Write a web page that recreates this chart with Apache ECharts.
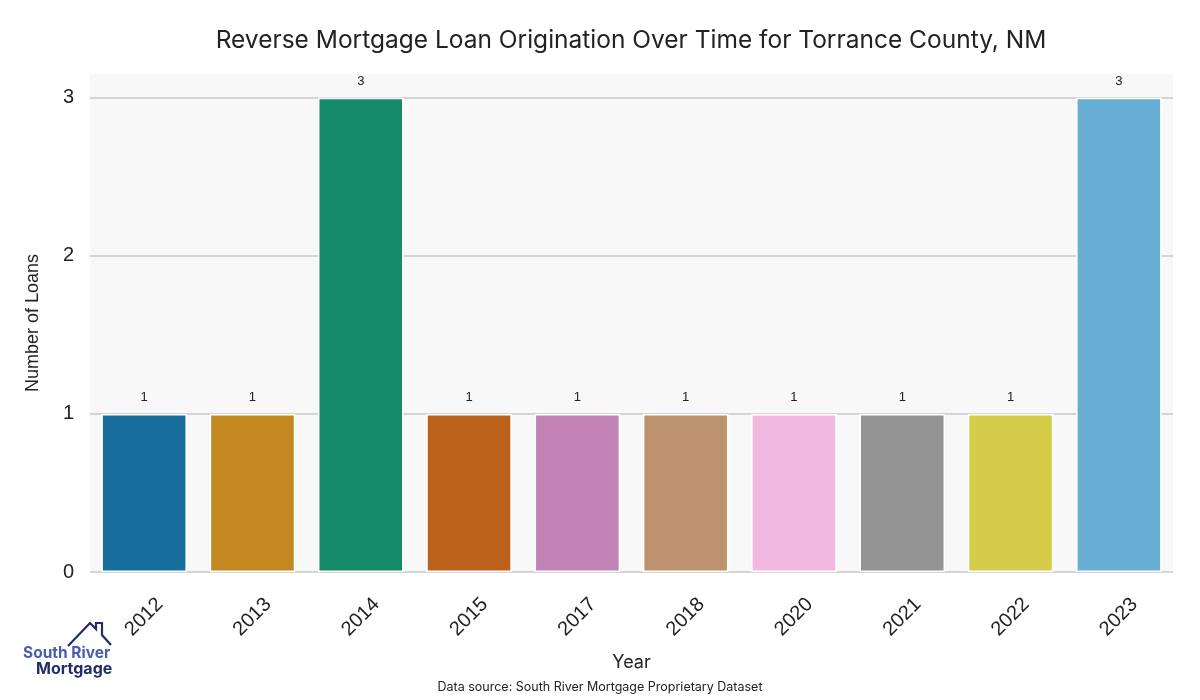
<!DOCTYPE html>
<html><head><meta charset="utf-8">
<script src="https://cdn.jsdelivr.net/npm/echarts@6/dist/echarts.min.js"></script>
<style>html,body{margin:0;padding:0;background:#fff}#c{width:1200px;height:700px}</style>
</head><body><div id="c"></div>
<script>
const years = ['2012','2013','2014','2015','2017','2018','2020','2021','2022','2023'];
const loans = [1,1,3,1,1,1,1,1,1,3];
const barColors = ['#176d9c','#c3881f','#158b6a','#ba611b','#c182b5','#bd926e','#f1b9e0','#949494','#d5cd4a','#68afd6'];
const yTicks = [0,1,2,3];
const titleText = 'Reverse Mortgage Loan Origination Over Time for Torrance County, NM';
const sourceText = 'Data source: South River Mortgage Proprietary Dataset';

const chart = echarts.init(document.getElementById('c'));
chart.setOption({
  backgroundColor:'#ffffff',
  animation:false,
  title:{text:titleText,left:626,top:23,textAlign:'center',
    textStyle:{fontFamily:'Inter',fontSize:24.5,fontWeight:'normal',color:'#222'}},
  grid:{left:90,right:27,top:74,bottom:128,show:true,backgroundColor:'#f8f8f8',borderWidth:0},
  xAxis:{type:'category',data:years,
    axisLine:{show:false},axisTick:{show:false},
    axisLabel:{rotate:45,align:'center',verticalAlign:'middle',margin:45,fontSize:20,color:'#222',fontFamily:'"Liberation Sans", Arial, sans-serif'},
    name:'Year',nameLocation:'middle',nameGap:82,
    nameTextStyle:{fontFamily:'Inter',fontSize:18,color:'#222'}},
  yAxis:{type:'value',min:0,max:3.15,interval:1,
    axisLine:{show:false},axisTick:{show:false},
    axisLabel:{margin:16,fontSize:20,color:'#222',fontFamily:'"Liberation Sans", Arial, sans-serif',
      formatter:v=>yTicks.includes(v)?String(v):''},
    splitLine:{lineStyle:{color:['#c8c8c8','#c8c8c8','#c8c8c8','#c8c8c8','rgba(0,0,0,0)'],width:1.5}},
    name:'Number of Loans',nameLocation:'middle',nameGap:48,
    nameTextStyle:{fontFamily:'"Liberation Sans", Arial, sans-serif',fontSize:18,color:'#222'}},
  series:[{type:'bar',barWidth:'79%',
    data:loans.map((v,i)=>({value:v,itemStyle:{color:barColors[i]}})),
    itemStyle:{borderColor:'#ffffff',borderWidth:1.5},
    label:{show:true,position:'top',distance:10,fontSize:13,color:'#222',fontFamily:'"Liberation Sans", Arial, sans-serif'}}],
  graphic:[
    {type:'text',left:'center',top:681,style:{text:sourceText,fontFamily:'Inter',fontSize:12.5,fill:'#222'}},
    {type:'polyline',shape:{points:[[68,646],[90,623],[96,629],[96,623],[102,623],[102,635],[111,645]]},
      style:{stroke:'#232c6a',lineWidth:2.2,fill:null}},
    {type:'text',left:23,top:645,style:{text:'South River',fontFamily:'Inter',fontWeight:'bold',fontSize:15.5,fill:'#4a5cb0'}},
    {type:'text',left:36,top:661,style:{text:'Mortgage',fontFamily:'Inter',fontWeight:'bold',fontSize:16,fill:'#232c6a'}}
  ]
});
</script></body></html>
